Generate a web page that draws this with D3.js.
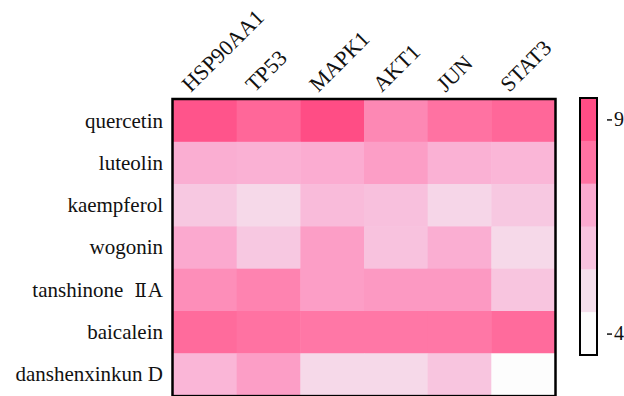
<!DOCTYPE html>
<html>
<head>
<meta charset="utf-8">
<script src="https://cdn.jsdelivr.net/npm/d3@7"></script>
<style>
  html, body { margin: 0; padding: 0; background: #fff; }
  svg { display: block; }
  text { font-family: "Liberation Serif", "Times New Roman", serif; fill: #111; }
</style>
</head>
<body>
<svg id="chart" width="624" height="396"></svg>
<script>
const targets = ["HSP90AA1", "TP53", "MAPK1", "AKT1", "JUN", "STAT3"];
const compounds = ["quercetin", "luteolin", "kaempferol", "wogonin", "tanshinone \u2161A", "baicalein", "danshenxinkun D"];
const quercetin      = [-8.8, -8.3, -9.0, -7.6, -8.0, -8.3];
const luteolin       = [-6.8, -6.7, -6.9, -7.2, -6.7, -6.5];
const kaempferol     = [-5.8, -5.2, -6.3, -6.1, -5.3, -5.8];
const wogonin        = [-7.0, -5.8, -7.2, -6.0, -6.8, -5.2];
const tanshinoneIIA  = [-7.5, -7.7, -7.2, -7.3, -7.3, -5.9];
const baicalein      = [-8.2, -8.0, -7.9, -7.9, -7.9, -8.2];
const danshenxinkunD = [-6.5, -7.2, -5.2, -5.2, -5.9, -4.0];
const values = [quercetin, luteolin, kaempferol, wogonin, tanshinoneIIA, baicalein, danshenxinkunD];
const legendTicks = [-9, -4];
const legendSteps = [-9, -8, -7, -6, -5, -4];

const svg = d3.select("#chart");

const mLeft = 173, mRight = 555, mTop = 99.5, rowH = 42.3;
const x = d3.scaleBand().domain(targets).range([mLeft, mRight]);
const y = d3.scaleBand().domain(compounds).range([mTop, mTop + rowH * compounds.length]);

const color = d3.scaleLinear()
  .domain([-9, -8, -7, -6, -5, -4])
  .range(["#ff4d85", "#ff72a2", "#fba9cf", "#f8c2de", "#f5dfec", "#fdfdfd"])
  .clamp(true);

const cells = [];
compounds.forEach((c, i) => targets.forEach((t, j) => cells.push({c, t, v: values[i][j]})));

svg.append("g").selectAll("rect").data(cells).join("rect")
  .attr("x", d => x(d.t))
  .attr("y", d => y(d.c))
  .attr("width", x.bandwidth() + 0.5)
  .attr("height", y.bandwidth() + 0.5)
  .attr("fill", d => color(d.v));

// frame
svg.append("rect")
  .attr("x", mLeft - 0.5).attr("y", mTop - 0.5)
  .attr("width", mRight - mLeft + 1).attr("height", rowH * compounds.length + 1)
  .attr("fill", "none").attr("stroke", "#000").attr("stroke-width", 2.5);

// row labels
const rl = svg.append("g").selectAll("text").data(compounds).join("text")
  .attr("x", 163)
  .attr("y", d => y(d) + y.bandwidth() / 2)
  .attr("dy", "0.33em")
  .attr("text-anchor", "end")
  .attr("font-size", 21);
rl.each(function(d) {
  const t = d3.select(this);
  const idx = d.indexOf("\u2161");
  if (idx < 0) { t.text(d); return; }
  t.append("tspan").text(d.slice(0, idx + 1 - 1));
  t.append("tspan").attr("dx", 6).style("font-family", "'DejaVu Serif', serif").attr("font-size", 18).text("\u2161");
  t.append("tspan").attr("dx", 1).text(d.slice(idx + 1));
});

// column labels
svg.append("g").selectAll("text").data(targets).join("text")
  .attr("transform", d => `translate(${x(d) + x.bandwidth() / 2 - 14},93) rotate(-45)`)
  .attr("text-anchor", "start")
  .attr("font-size", 22)
  .text(d => d);

// colour legend
const ly = d3.scaleLinear().domain([-9.5, -3.5]).range([98, 355]);
const lx = 580, lw = 17;
svg.append("g").selectAll("rect").data(legendSteps).join("rect")
  .attr("x", lx)
  .attr("y", d => ly(d - 0.5))
  .attr("width", lw)
  .attr("height", d => ly(d + 0.5) - ly(d - 0.5) + 0.5)
  .attr("fill", d => color(d));
svg.append("rect")
  .attr("x", lx).attr("y", ly(-9.5))
  .attr("width", lw).attr("height", ly(-3.5) - ly(-9.5))
  .attr("fill", "none").attr("stroke", "#000").attr("stroke-width", 2);

const legendAxis = d3.axisRight(ly).tickValues(legendTicks).tickSize(5).tickPadding(2).tickFormat(d3.format("d"));
const ag = svg.append("g").attr("transform", `translate(${lx + lw + 10},0)`).call(legendAxis);
ag.select(".domain").remove();
ag.selectAll("line").attr("stroke", "#111").attr("stroke-width", 1.5);
ag.selectAll("text").attr("font-size", 20).attr("font-family", "Liberation Serif, serif").attr("fill", "#111").text(d => Math.abs(d));
</script>
</body>
</html>
